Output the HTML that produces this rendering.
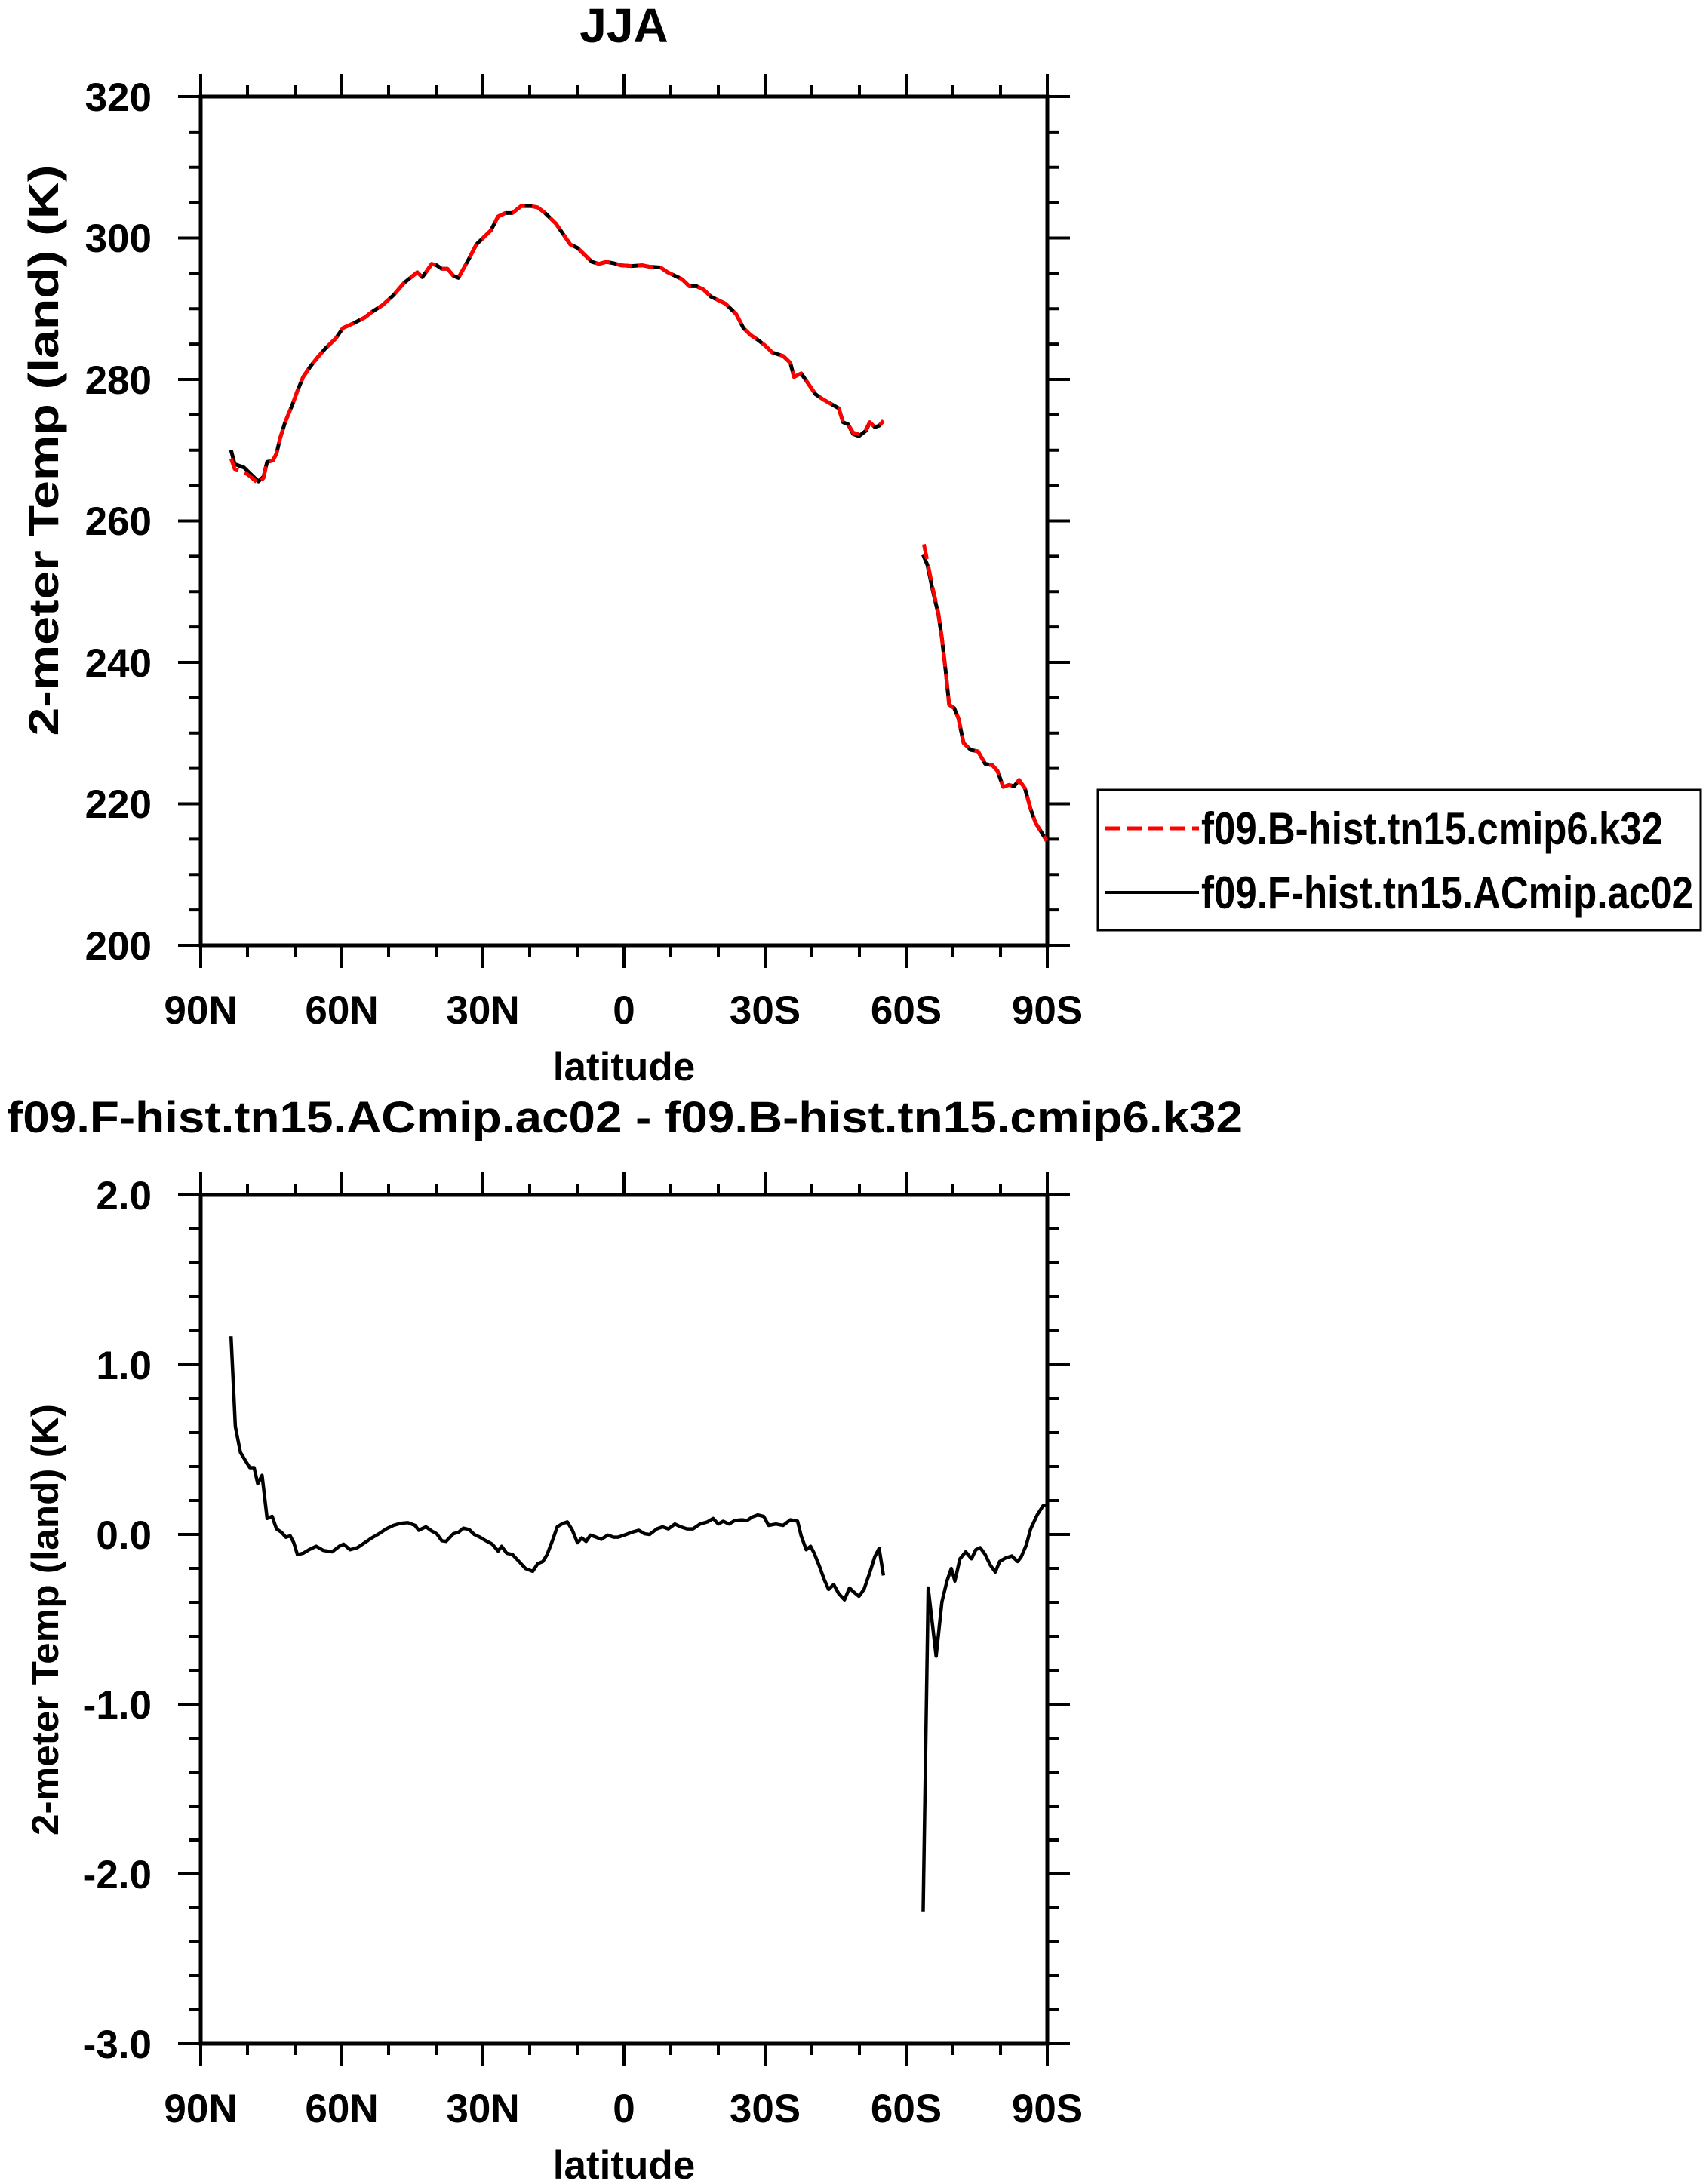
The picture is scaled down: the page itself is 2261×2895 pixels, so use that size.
<!DOCTYPE html>
<html><head><meta charset="utf-8"><style>html,body{margin:0;padding:0;background:#fff}svg{display:block}</style></head>
<body>
<svg xmlns="http://www.w3.org/2000/svg" width="2261" height="2895" viewBox="0 0 2261 2895" font-family="Liberation Sans, sans-serif" font-weight="bold">
<rect width="2261" height="2895" fill="#fff"/>
<g stroke="#000" stroke-width="4" fill="none">
<path d="
M266,128V98 M453,128V98 M640,128V98 M827,128V98 M1014,128V98 M1201,128V98 M1388,128V98
M328,128V113 M391,128V113 M515,128V113 M578,128V113 M702,128V113 M765,128V113 M889,128V113 M952,128V113 M1076,128V113 M1139,128V113 M1263,128V113 M1326,128V113
M266,1253V1283 M453,1253V1283 M640,1253V1283 M827,1253V1283 M1014,1253V1283 M1201,1253V1283 M1388,1253V1283
M328,1253V1268 M391,1253V1268 M515,1253V1268 M578,1253V1268 M702,1253V1268 M765,1253V1268 M889,1253V1268 M952,1253V1268 M1076,1253V1268 M1139,1253V1268 M1263,1253V1268 M1326,1253V1268
M266,1584V1554 M453,1584V1554 M640,1584V1554 M827,1584V1554 M1014,1584V1554 M1201,1584V1554 M1388,1584V1554
M328,1584V1569 M391,1584V1569 M515,1584V1569 M578,1584V1569 M702,1584V1569 M765,1584V1569 M889,1584V1569 M952,1584V1569 M1076,1584V1569 M1139,1584V1569 M1263,1584V1569 M1326,1584V1569
M266,2709V2739 M453,2709V2739 M640,2709V2739 M827,2709V2739 M1014,2709V2739 M1201,2709V2739 M1388,2709V2739
M328,2709V2724 M391,2709V2724 M515,2709V2724 M578,2709V2724 M702,2709V2724 M765,2709V2724 M889,2709V2724 M952,2709V2724 M1076,2709V2724 M1139,2709V2724 M1263,2709V2724 M1326,2709V2724
"/>
<path d="
M266,128H236 M266,315.5H236 M266,503H236 M266,690.5H236 M266,878H236 M266,1065.5H236 M266,1253H236
M1388,128H1418 M1388,315.5H1418 M1388,503H1418 M1388,690.5H1418 M1388,878H1418 M1388,1065.5H1418 M1388,1253H1418
M266,174.9H251 M266,221.8H251 M266,268.6H251 M266,362.4H251 M266,409.3H251 M266,456.1H251 M266,549.9H251 M266,596.8H251 M266,643.6H251 M266,737.4H251 M266,784.3H251 M266,831.1H251 M266,924.9H251 M266,971.8H251 M266,1018.6H251 M266,1112.4H251 M266,1159.3H251 M266,1206.1H251
M1388,174.9H1403 M1388,221.8H1403 M1388,268.6H1403 M1388,362.4H1403 M1388,409.3H1403 M1388,456.1H1403 M1388,549.9H1403 M1388,596.8H1403 M1388,643.6H1403 M1388,737.4H1403 M1388,784.3H1403 M1388,831.1H1403 M1388,924.9H1403 M1388,971.8H1403 M1388,1018.6H1403 M1388,1112.4H1403 M1388,1159.3H1403 M1388,1206.1H1403
"/>
<path d="
M266,1584H236 M266,1809H236 M266,2034H236 M266,2259H236 M266,2484H236 M266,2709H236
M1388,1584H1418 M1388,1809H1418 M1388,2034H1418 M1388,2259H1418 M1388,2484H1418 M1388,2709H1418
M266,1629H251 M266,1674H251 M266,1719H251 M266,1764H251 M266,1854H251 M266,1899H251 M266,1944H251 M266,1989H251 M266,2079H251 M266,2124H251 M266,2169H251 M266,2214H251 M266,2304H251 M266,2349H251 M266,2394H251 M266,2439H251 M266,2529H251 M266,2574H251 M266,2619H251 M266,2664H251
M1388,1629H1403 M1388,1674H1403 M1388,1719H1403 M1388,1764H1403 M1388,1854H1403 M1388,1899H1403 M1388,1944H1403 M1388,1989H1403 M1388,2079H1403 M1388,2124H1403 M1388,2169H1403 M1388,2214H1403 M1388,2304H1403 M1388,2349H1403 M1388,2394H1403 M1388,2439H1403 M1388,2529H1403 M1388,2574H1403 M1388,2619H1403 M1388,2664H1403
"/>
</g>
<rect x="266" y="128" width="1122" height="1125" fill="none" stroke="#000" stroke-width="5"/>
<rect x="266" y="1584" width="1122" height="1125" fill="none" stroke="#000" stroke-width="5"/>

<g transform="matrix(0.9565 0 0 0.9244 0.1 0.4)" fill="none" stroke-linejoin="round">
<polyline vector-effect="non-scaling-stroke" stroke="#000" stroke-width="5" points="320,645 325,665 338,670 348,680 358,690 365,683 370,662 378,660 383,650 388,628 395,605 405,580 412,560 420,540 430,525 440,512 450,500 458,492 465,485 475,470 490,463 505,455 515,447 530,437 545,423 560,405 572,395 578,390 585,397 590,390 598,378 605,380 612,385 620,385 628,395 635,398 642,385 650,370 660,350 670,340 680,330 690,310 700,305 710,305 722,295 735,295 745,297 755,305 770,320 780,335 790,350 800,355 810,365 820,375 830,378 840,375 850,377 860,380 875,381 890,380 900,382 915,383 925,390 935,395 945,400 955,410 965,410 975,415 985,425 995,430 1005,435 1020,450 1030,470 1040,480 1050,487 1060,495 1070,505 1085,510 1095,520 1100,540 1110,535 1120,550 1130,565 1140,572 1150,578 1162,585 1168,605 1175,608 1182,622 1190,625 1200,617 1205,605 1212,612 1218,610 1224,603"/>
<polyline vector-effect="non-scaling-stroke" stroke="#000" stroke-width="5" points="1279,795 1285,810 1292,845 1300,880 1305,915 1310,960 1315,1010 1322,1015 1328,1030 1335,1065 1345,1075 1355,1077 1365,1095 1375,1097 1382,1105 1390,1128 1398,1125 1405,1127 1412,1118 1420,1130 1428,1160 1435,1180 1443,1193 1450,1205"/>
<polyline vector-effect="non-scaling-stroke" stroke="#f00" stroke-width="5" stroke-dasharray="20 9" points="320,657 325,672 338,676 348,684 358,693 365,685 370,662 378,660 383,650 388,628 395,605 405,580 412,560 420,540 430,525 440,512 450,500 458,492 465,485 475,470 490,463 505,455 515,447 530,437 545,423 560,405 572,395 578,390 585,397 590,390 598,378 605,380 612,385 620,385 628,395 635,398 642,385 650,370 660,350 670,340 680,330 690,310 700,305 710,305 722,295 735,295 745,297 755,305 770,320 780,335 790,350 800,355 810,365 820,375 830,378 840,375 850,377 860,380 875,381 890,380 900,382 915,383 925,390 935,395 945,400 955,410 965,410 975,415 985,425 995,430 1005,435 1020,450 1030,470 1040,480 1050,487 1060,495 1070,505 1085,510 1095,520 1100,540 1110,535 1120,550 1130,565 1140,572 1150,578 1162,585 1168,605 1175,608 1182,620 1190,622 1200,615 1205,605 1212,612 1218,610 1224,603"/>
<polyline vector-effect="non-scaling-stroke" stroke="#f00" stroke-width="5" stroke-dasharray="20 9" points="1280,780 1285,805 1292,842 1300,878 1305,915 1310,960 1315,1010 1322,1015 1328,1030 1335,1065 1345,1075 1355,1077 1365,1095 1375,1097 1382,1105 1390,1128 1398,1125 1405,1127 1412,1118 1420,1130 1428,1160 1435,1180 1443,1193 1450,1205"/>
</g>

<g transform="matrix(0.9565 0 0 0.9221 0.1 1450.3)" fill="none" stroke="#000" stroke-linejoin="round">
<polyline vector-effect="non-scaling-stroke" stroke-width="4.5" points="320,348 326,478 333,515 340,527 346,537 352,537 357,560 363,548 370,610 377,607 383,625 390,630 396,637 402,635 407,645 412,662 420,660 428,655 438,650 448,656 460,658 470,650 476,647 485,655 495,652 505,645 515,638 525,632 535,625 545,620 555,617 565,616 575,620 580,627 590,622 598,628 605,632 612,642 618,643 628,632 635,630 642,624 650,626 657,633 665,637 673,642 682,647 690,657 695,650 702,660 710,662 720,673 728,682 738,686 745,675 752,672 758,662 766,640 772,622 780,617 786,615 793,627 800,645 806,638 812,643 818,634 826,637 833,640 842,634 850,637 856,637 865,634 875,630 885,627 893,632 900,633 910,625 918,622 926,625 935,618 943,622 952,625 960,625 970,618 980,615 988,610 995,618 1002,614 1010,618 1018,613 1028,612 1035,613 1042,608 1050,605 1058,607 1065,620 1075,618 1085,620 1095,612 1105,614 1110,635 1117,655 1123,650 1128,660 1135,678 1142,698 1148,712 1155,705 1162,718 1170,727 1177,710 1183,716 1190,722 1197,712 1205,688 1212,665 1218,653 1224,692"/>
<polyline vector-effect="non-scaling-stroke" stroke-width="4.5" points="1279,1175 1286,710 1297,808 1305,730 1312,700 1318,682 1323,700 1330,668 1338,658 1346,668 1352,655 1358,652 1365,662 1372,677 1379,687 1385,672 1393,667 1402,664 1410,672 1415,665 1422,648 1428,625 1437,605 1445,592 1451,590"/>
</g>

<g font-size="53" fill="#000">
<text x="827" y="56" text-anchor="middle" font-size="64">JJA</text>
<g text-anchor="end">
<text x="201" y="147">320</text><text x="201" y="334">300</text><text x="201" y="522">280</text><text x="201" y="709">260</text><text x="201" y="897">240</text><text x="201" y="1084">220</text><text x="201" y="1272">200</text>
<text x="201" y="1603">2.0</text><text x="201" y="1828">1.0</text><text x="201" y="2053">0.0</text><text x="201" y="2278">-1.0</text><text x="201" y="2503">-2.0</text><text x="201" y="2728">-3.0</text>
</g>
<g text-anchor="middle">
<text x="266" y="1357">90N</text><text x="453" y="1357">60N</text><text x="640" y="1357">30N</text><text x="827" y="1357">0</text><text x="1014" y="1357">30S</text><text x="1201" y="1357">60S</text><text x="1388" y="1357">90S</text>
<text x="266" y="2813">90N</text><text x="453" y="2813">60N</text><text x="640" y="2813">30N</text><text x="827" y="2813">0</text><text x="1014" y="2813">30S</text><text x="1201" y="2813">60S</text><text x="1388" y="2813">90S</text>
<text x="827" y="1432">latitude</text>
<text x="827" y="2888">latitude</text>
<text x="828" y="1501" font-size="58" textLength="1638" lengthAdjust="spacingAndGlyphs">f09.F-hist.tn15.ACmip.ac02 - f09.B-hist.tn15.cmip6.k32</text>
<text transform="translate(77,597) rotate(-90)" font-size="56" textLength="757" lengthAdjust="spacingAndGlyphs">2-meter Temp (land) (K)</text>
<text transform="translate(77,2147) rotate(-90)" font-size="50" textLength="572" lengthAdjust="spacingAndGlyphs">2-meter Temp (land) (K)</text>
</g>
</g>

<rect x="1455" y="1047" width="799" height="186" fill="#fff" stroke="#000" stroke-width="3"/>
<line x1="1464" y1="1098" x2="1589" y2="1098" stroke="#f00" stroke-width="5" stroke-dasharray="20 9"/>
<line x1="1464" y1="1183" x2="1589" y2="1183" stroke="#000" stroke-width="4"/>
<g font-size="60" fill="#000">
<text x="1592" y="1119" textLength="612" lengthAdjust="spacingAndGlyphs">f09.B-hist.tn15.cmip6.k32</text>
<text x="1592" y="1204" textLength="652" lengthAdjust="spacingAndGlyphs">f09.F-hist.tn15.ACmip.ac02</text>
</g>
</svg>
</body></html>
